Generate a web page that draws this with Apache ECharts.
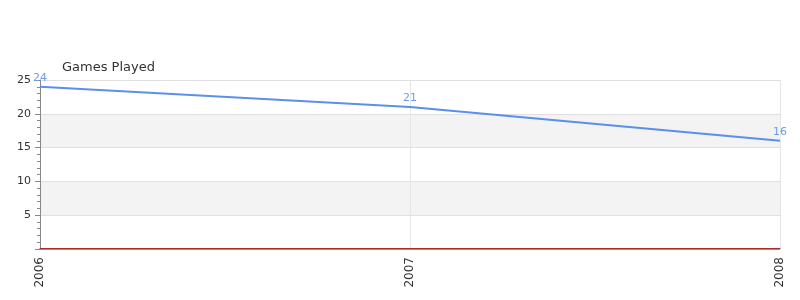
<!DOCTYPE html>
<html><head><meta charset="utf-8">
<script src="https://cdn.jsdelivr.net/npm/echarts@6/dist/echarts.min.js"></script>
<style>html,body{margin:0;padding:0;background:#fff}#c{width:800px;height:300px}</style>
</head><body><div id="c"></div>
<script>
const categories = ['2006', '2007', '2008'];
const gamesPlayed = [24, 21, 16];
const baseline = [0, 0, 0];
const yTicks = [5, 10, 15, 20, 25];

const chart = echarts.init(document.getElementById('c'), null, {renderer: 'canvas'});
chart.setOption({
  animation: false,
  title: {
    text: 'Games Played', left: 57, top: 56,
    textStyle: {fontFamily: 'DejaVu Sans', fontSize: 13, fontWeight: 'normal', color: '#333'}
  },
  grid: {left: 40, right: 20, top: 80, bottom: 51, containLabel: false},
  xAxis: {
    type: 'category', data: categories, boundaryGap: false, offset: -1,
    axisLine: {lineStyle: {color: '#444', width: 1}},
    axisTick: {show: false},
    axisLabel: {rotate: 90, fontFamily: 'DejaVu Sans', fontSize: 12, color: '#333', margin: 9},
    splitLine: {show: true, lineStyle: {color: '#e6e6e6'}}
  },
  yAxis: {
    type: 'value', min: 0, max: 25, interval: 5,
    axisLine: {show: true, lineStyle: {color: '#888'}},
    axisTick: {show: true, inside: false, length: 5, lineStyle: {color: '#888'}},
    minorTick: {show: true, splitNumber: 5, length: 3, lineStyle: {color: '#888'}},
    axisLabel: {
      fontFamily: 'DejaVu Sans', fontSize: 11, color: '#333', margin: 9,
      formatter: v => yTicks.includes(v) ? String(v) : ''
    },
    splitLine: {show: true, lineStyle: {color: '#e0e0e0'}},
    splitArea: {show: true, areaStyle: {color: ['#ffffff', '#f3f3f3']}}
  },
  series: [
    {
      name: 'baseline', type: 'line', data: baseline, symbol: 'none',
      lineStyle: {color: '#d42020', width: 1.5}, silent: true, z: 1
    },
    {
      name: 'Games Played', type: 'line', data: gamesPlayed,
      symbol: 'circle', symbolSize: 0, showSymbol: true,
      lineStyle: {color: '#5b8fe8', width: 2},
      itemStyle: {color: '#5b8fe8'},
      label: {show: true, position: 'top', distance: 3, color: '#6f9ae8',
        fontFamily: 'DejaVu Sans', fontSize: 11}
    }
  ]
});
</script></body></html>
